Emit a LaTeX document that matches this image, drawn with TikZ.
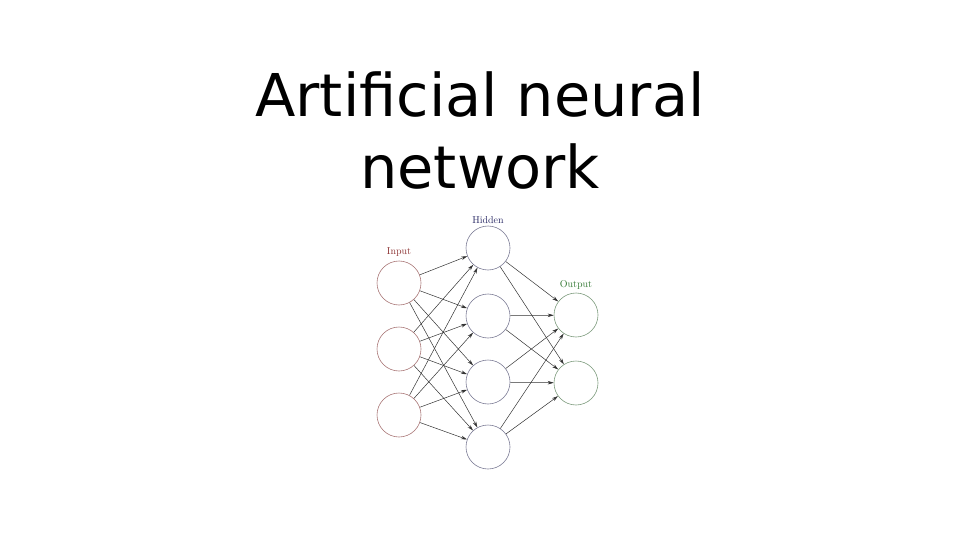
\documentclass[tikz,border=0pt]{standalone}
\usepackage{fontspec}
\newfontfamily\titlefont{DejaVu Sans}
\usetikzlibrary{arrows.meta}
\definecolor{incol}{RGB}{170,120,120}
\definecolor{hidcol}{RGB}{125,125,150}
\definecolor{outcol}{RGB}{125,155,125}
\definecolor{inlab}{RGB}{140,50,50}
\definecolor{hidlab}{RGB}{40,40,100}
\definecolor{outlab}{RGB}{50,120,50}
\tikzset{
  neuron/.style={circle, draw, line width=0.6pt, minimum size=44pt, inner sep=0pt},
  inneuron/.style={neuron, draw=incol},
  hidneuron/.style={neuron, draw=hidcol},
  outneuron/.style={neuron, draw=outcol},
  conn/.style={draw=black!80, line width=0.5pt, -{Stealth[length=6pt,width=3.5pt]}},
  layerlabel/.style={font=\fontsize{10}{12}\selectfont, inner sep=0pt}
}
\begin{document}
\begin{tikzpicture}[x=1pt,y=-1pt]
\useasboundingbox (0,0) rectangle (960,540);
\node[font=\titlefont\fontsize{59}{71.5}\selectfont, align=center, anchor=base] (title) at (480,188.5) {Artificial neural\\network};

\node[inneuron] (i1) at (399,283) {};
\node[inneuron] (i2) at (399,349) {};
\node[inneuron] (i3) at (399,415) {};
\node[hidneuron] (h1) at (488,248) {};
\node[hidneuron] (h2) at (488,316) {};
\node[hidneuron] (h3) at (488,382) {};
\node[hidneuron] (h4) at (488,447) {};
\node[outneuron] (o1) at (576,315) {};
\node[outneuron] (o2) at (576,383) {};

\node[layerlabel, text=inlab] (linput) at (399,252) {Input};
\node[layerlabel, text=hidlab] (lhidden) at (488,220) {Hidden};
\node[layerlabel, text=outlab] (loutput) at (576,285) {Output};

\foreach \i in {i1,i2,i3}{
  \foreach \h in {h1,h2,h3,h4}{
    \draw[conn] (\i) -- (\h);
  }
}
\foreach \h in {h1,h2,h3,h4}{
  \foreach \o in {o1,o2}{
    \draw[conn] (\h) -- (\o);
  }
}
\end{tikzpicture}
\end{document}
